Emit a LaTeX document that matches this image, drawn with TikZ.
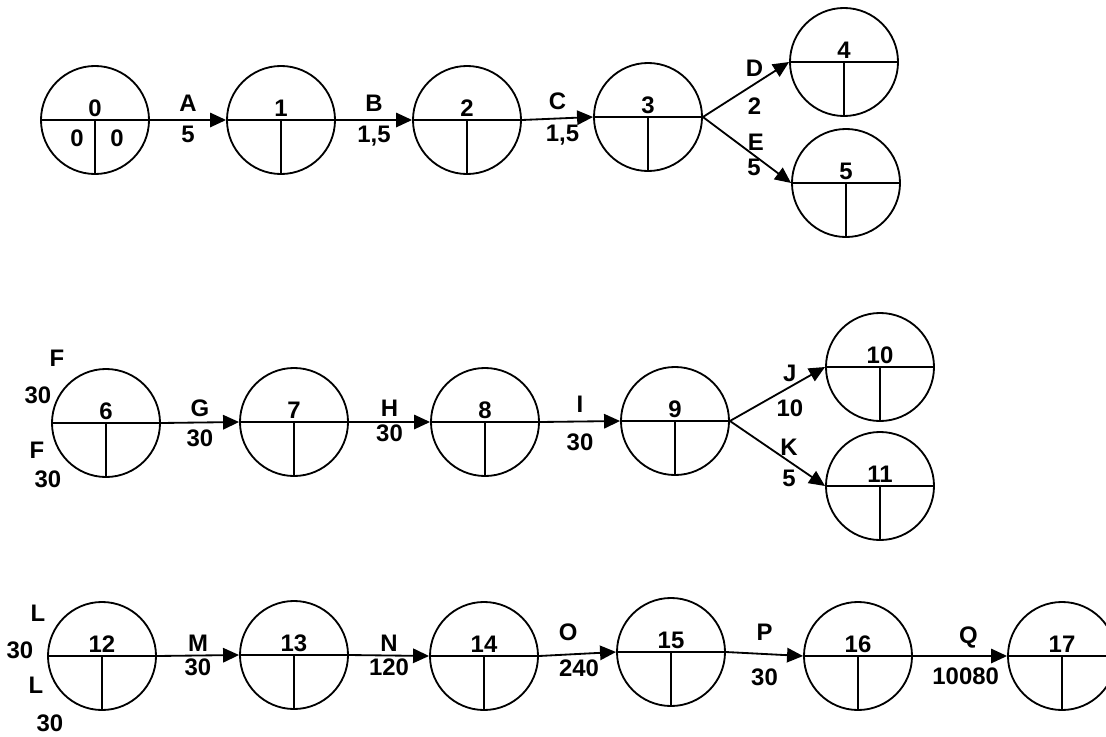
\documentclass[tikz,border=0pt]{standalone}
\usepackage{fontspec}
\setmainfont{Liberation Sans}
\usetikzlibrary{arrows.meta}

\begin{document}
\begin{tikzpicture}[x=0.025cm,y=-0.025cm,>={Triangle[length=0.4cm,width=0.36cm]},
  line width=1.3pt,font=\fontsize{17}{20}\selectfont\bfseries,
  evento/.style={draw,circle,minimum size=2.7cm,inner sep=0pt},
  numero/.style={above,inner sep=1.5pt}]
  \clip (0,0) rectangle (1106,737);
  % eventi
  \foreach \n/\x/\y in {0/95/120,1/281/120,2/467/120,3/648/117,4/844/62,5/846/183,
      6/106/423,7/294/422,8/485/422,9/675/421,10/880/367,11/880/486,
      12/102/656,13/294/655,14/484/656,15/671/652,16/858/656,17/1062/656} {
    \node[evento] (e\n) at (\x,\y) {};
    \draw (e\n.west) -- (e\n.east);
    \draw (e\n.center) -- (e\n.south);
    \node[numero] (t\n) at (e\n.center) {\n};
  }
  \node (z1) at (77,138) {0};
  \node (z2) at (117,138) {0};
  % attivita
  \draw[->] (e0.east) -- (e1.west) node[midway,above=2pt] (lA) {A} node[midway,below=0.5pt] (dA) {5};
  \draw[->] (e1.east) -- (e2.west) node[midway,above=2pt] (lB) {B} node[midway,below=0.5pt] (dB) {1,5};
  \draw[->] (e2.east) -- (e3.west) node[midway,above=2pt] (lC) {C} node[pos=0.57,below=0.5pt] (dC) {1,5};
  \draw[->] (e3.east) -- (e4.west) node[pos=0.6,above=1.5pt] (lD) {D} node[pos=0.6,below=6pt] (dD) {2};
  \draw[->] (e3.east) -- (e5.west) node[pos=0.6,above=0.5pt] (lE) {E} node[pos=0.58,below=-1.5pt] (dE) {5};
  \node (f1) at (57,358) {F};
  \node (f2) at (38,395) {30};
  \node (f3) at (37,450) {F};
  \node (f4) at (48,479) {30};
  \draw[->] (e6.east) -- (e7.west) node[midway,above=0pt] (lG) {G} node[midway,below=1pt] (dG) {30};
  \draw[->] (e7.east) -- (e8.west) node[midway,above=0pt] (lH) {H} node[midway,below=-2pt] (dH) {30};
  \draw[->] (e8.east) -- (e9.west) node[midway,above=2.5pt] (lI) {I} node[midway,below=4.5pt] (dI) {30};
  \draw[->] (e9.east) -- (e10.west) node[pos=0.63,above=0pt] (lJ) {J} node[pos=0.63,below=5pt] (dJ) {10};
  \draw[->] (e9.east) -- (e11.west) node[pos=0.62,above=0pt] (lK) {K} node[pos=0.62,below=2pt] (dK) {5};
  \node (l1) at (38,613) {L};
  \node (l2) at (20,650) {30};
  \node (l3) at (36,685) {L};
  \node (l4) at (50,723) {30};
  \draw[->] (e12.east) -- (e13.west) node[midway,above=-1pt] (lM) {M} node[midway,below=-1.5pt] (dM) {30};
  \draw[->] (e13.east) -- (e14.west) node[midway,above=-1pt] (lN) {N} node[midway,below=-1.5pt] (dN) {120};
  \draw[->] (e14.east) -- (e15.west) node[pos=0.38,above=5.5pt] (lO) {O} node[pos=0.52,below=0pt] (dO) {240};
  \draw[->] (e15.east) -- (e16.west) node[midway,above=5.5pt] (lP) {P} node[midway,below=6.5pt] (dP) {30};
  \draw[->] (e16.east) -- (e17.west) node[pos=0.59,above=1.5pt] (lQ) {Q} node[pos=0.56,below=4.5pt] (dQ) {10080};
\end{tikzpicture}
\end{document}
